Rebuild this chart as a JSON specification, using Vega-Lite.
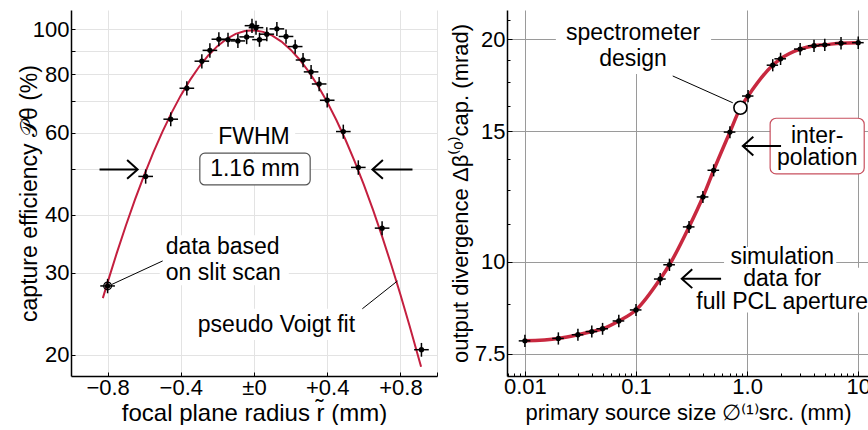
{
  "$schema": "https://vega.github.io/schema/vega-lite/v6.json",
  "background": "white",
  "padding": {"left": 18, "top": 8, "right": 0, "bottom": 0},
  "spacing": 11,
  "config": {
    "font": "Liberation Sans",
    "view": {"stroke": null},
    "axis": {
      "ticks": true, "tickColor": "black", "tickWidth": 1, "tickSize": -4,
      "domainColor": "black", "domainWidth": 1.5,
      "labelFont": "Liberation Sans", "titleFont": "Liberation Sans",
      "labelFontSize": 22, "titleFontSize": 23, "titleFontWeight": "normal",
      "labelColor": "black", "titleColor": "black", "gridWidth": 1,
      "labelOverlap": false, "labelFlush": false, "labelPadding": 5
    },
    "text": {"font": "Liberation Sans", "fontSize": 23, "color": "black"}
  },
  "datasets": {
    "leftPts": [
      {"x": -0.8, "y": 28.1, "xe": 0.04, "ye": 1.0},
      {"x": -0.592, "y": 48.3, "xe": 0.04, "ye": 1.7},
      {"x": -0.455, "y": 64.1, "xe": 0.04, "ye": 2.2},
      {"x": -0.367, "y": 74.7, "xe": 0.04, "ye": 2.6},
      {"x": -0.285, "y": 85.4, "xe": 0.04, "ye": 3.0},
      {"x": -0.241, "y": 90.1, "xe": 0.04, "ye": 3.2},
      {"x": -0.192, "y": 95.2, "xe": 0.04, "ye": 3.3},
      {"x": -0.142, "y": 95.0, "xe": 0.04, "ye": 3.3},
      {"x": -0.088, "y": 94.4, "xe": 0.04, "ye": 3.3},
      {"x": -0.04, "y": 96.3, "xe": 0.04, "ye": 3.4},
      {"x": -0.011, "y": 101.8, "xe": 0.04, "ye": 3.6},
      {"x": 0.011, "y": 100.8, "xe": 0.04, "ye": 3.5},
      {"x": 0.03, "y": 95.0, "xe": 0.04, "ye": 3.3},
      {"x": 0.07, "y": 97.6, "xe": 0.04, "ye": 3.4},
      {"x": 0.125, "y": 100.2, "xe": 0.04, "ye": 3.5},
      {"x": 0.175, "y": 96.5, "xe": 0.04, "ye": 3.4},
      {"x": 0.225, "y": 91.8, "xe": 0.04, "ye": 3.2},
      {"x": 0.268, "y": 85.9, "xe": 0.04, "ye": 3.0},
      {"x": 0.312, "y": 81.0, "xe": 0.04, "ye": 2.8},
      {"x": 0.356, "y": 76.3, "xe": 0.04, "ye": 2.7},
      {"x": 0.4, "y": 70.4, "xe": 0.04, "ye": 2.5},
      {"x": 0.488, "y": 60.3, "xe": 0.04, "ye": 2.1},
      {"x": 0.57, "y": 50.5, "xe": 0.04, "ye": 1.8},
      {"x": 0.7, "y": 37.4, "xe": 0.04, "ye": 1.3},
      {"x": 0.915, "y": 20.5, "xe": 0.04, "ye": 0.7}
    ],
    "leftFit": [
      {"x": -0.826, "y": 26.46}, {"x": -0.8, "y": 28.6}, {"x": -0.75, "y": 33.05},
      {"x": -0.7, "y": 37.89}, {"x": -0.65, "y": 43.1}, {"x": -0.6, "y": 48.62},
      {"x": -0.55, "y": 54.38}, {"x": -0.5, "y": 60.28}, {"x": -0.45, "y": 66.23},
      {"x": -0.4, "y": 72.11}, {"x": -0.35, "y": 77.76}, {"x": -0.3, "y": 83.06},
      {"x": -0.25, "y": 87.86}, {"x": -0.2, "y": 92.0}, {"x": -0.15, "y": 95.32},
      {"x": -0.1, "y": 97.75}, {"x": -0.05, "y": 99.15}, {"x": 0.0, "y": 99.48},
      {"x": 0.05, "y": 98.72}, {"x": 0.1, "y": 96.9}, {"x": 0.15, "y": 94.1},
      {"x": 0.2, "y": 90.42}, {"x": 0.25, "y": 86.01}, {"x": 0.3, "y": 81.0},
      {"x": 0.35, "y": 75.53}, {"x": 0.4, "y": 69.77}, {"x": 0.45, "y": 63.84},
      {"x": 0.5, "y": 57.9}, {"x": 0.55, "y": 52.04}, {"x": 0.6, "y": 46.37},
      {"x": 0.65, "y": 40.98}, {"x": 0.7, "y": 35.9}, {"x": 0.75, "y": 31.21},
      {"x": 0.8, "y": 26.94}, {"x": 0.85, "y": 23.08}, {"x": 0.913, "y": 18.85}
    ],
    "leftMark": [{"x": -0.8, "y": 28.1}],
    "leftBg": [
      {"x": -0.225, "x2": 0.225, "y": 54.5, "y2": 63.8},
      {"x": -0.515, "x2": 0.19, "y": 28.2, "y2": 36.1},
      {"x": -0.35, "x2": 0.6, "y": 21.5, "y2": 25.1}
    ],
    "leftBox": [{"x": -0.296, "x2": 0.307, "y": 46.3, "y2": 54.2}],
    "leftLines": [
      {"x": -0.499, "x2": -0.778, "y": 31.8, "y2": 28.3},
      {"x": 0.592, "x2": 0.784, "y": 25.1, "y2": 28.8}
    ],
    "leftShafts": [
      {"x": -0.844, "x2": -0.64, "y": 50, "y2": 50},
      {"x": 0.866, "x2": 0.652, "y": 50, "y2": 50}
    ],
    "leftHeads": [
      {"x": -0.636, "y": 50, "d": "right"},
      {"x": 0.647, "y": 50, "d": "left"}
    ],
    "leftTxtC": [
      {"x": 0.0, "y": 58.6, "t": "FWHM"},
      {"x": 0.005, "y": 50, "t": "1.16 mm"}
    ],
    "leftTxtL": [
      {"x": -0.482, "y": 34.05, "t": "data based"},
      {"x": -0.482, "y": 30.0, "t": "on slit scan"},
      {"x": -0.307, "y": 23.2, "t": "pseudo Voigt fit"}
    ],
    "rightPts": [
      {"x": 0.01, "y": 7.81, "xe": 0.0012, "ye": 0.15},
      {"x": 0.02, "y": 7.87, "xe": 0.0024, "ye": 0.15},
      {"x": 0.03, "y": 7.96, "xe": 0.0036, "ye": 0.15},
      {"x": 0.04, "y": 8.04, "xe": 0.0048, "ye": 0.15},
      {"x": 0.05, "y": 8.11, "xe": 0.006, "ye": 0.15},
      {"x": 0.07, "y": 8.31, "xe": 0.0084, "ye": 0.16},
      {"x": 0.1, "y": 8.6, "xe": 0.012, "ye": 0.16},
      {"x": 0.165, "y": 9.47, "xe": 0.02, "ye": 0.18},
      {"x": 0.2, "y": 9.9, "xe": 0.024, "ye": 0.19},
      {"x": 0.3, "y": 11.14, "xe": 0.036, "ye": 0.21},
      {"x": 0.4, "y": 12.23, "xe": 0.048, "ye": 0.23},
      {"x": 0.5, "y": 13.29, "xe": 0.06, "ye": 0.25},
      {"x": 0.7, "y": 14.97, "xe": 0.084, "ye": 0.28},
      {"x": 1.02, "y": 16.75, "xe": 0.12, "ye": 0.32},
      {"x": 1.7, "y": 18.44, "xe": 0.2, "ye": 0.35},
      {"x": 2.0, "y": 18.81, "xe": 0.24, "ye": 0.36},
      {"x": 3.0, "y": 19.39, "xe": 0.36, "ye": 0.37},
      {"x": 4.0, "y": 19.59, "xe": 0.48, "ye": 0.37},
      {"x": 5.0, "y": 19.65, "xe": 0.6, "ye": 0.37},
      {"x": 7.0, "y": 19.75, "xe": 0.84, "ye": 0.38},
      {"x": 10, "y": 19.78, "xe": 1.2, "ye": 0.38}
    ],
    "rightFit": [
      {"x": 0.01, "y": 7.81}, {"x": 0.02, "y": 7.87}, {"x": 0.03, "y": 7.96},
      {"x": 0.04, "y": 8.04}, {"x": 0.05, "y": 8.11}, {"x": 0.07, "y": 8.31},
      {"x": 0.1, "y": 8.6}, {"x": 0.165, "y": 9.47}, {"x": 0.2, "y": 9.9},
      {"x": 0.3, "y": 11.14}, {"x": 0.4, "y": 12.23}, {"x": 0.5, "y": 13.29},
      {"x": 0.7, "y": 14.97}, {"x": 0.87, "y": 16.15}, {"x": 1.02, "y": 16.75},
      {"x": 1.7, "y": 18.44}, {"x": 2.0, "y": 18.81}, {"x": 3.0, "y": 19.39},
      {"x": 4.0, "y": 19.59}, {"x": 5.0, "y": 19.65}, {"x": 7.0, "y": 19.75},
      {"x": 10, "y": 19.78}
    ],
    "rightDesign": [{"x": 0.87, "y": 16.15}],
    "rightBg": [
      {"x": 0.019, "x2": 0.474, "y": 17.94, "y2": 21.9},
      {"x": 0.62, "x2": 6.34, "y": 9.81, "y2": 10.46},
      {"x": 0.385, "x2": 11.1, "y": 8.53, "y2": 9.81}
    ],
    "rightBox": [{"x": 1.611, "x2": 11.32, "y": 13.14, "y2": 15.63}],
    "rightLines": [
      {"x": 0.214, "x2": 0.743, "y": 17.83, "y2": 16.4}
    ],
    "rightShafts": [
      {"x": 2.02, "x2": 0.93, "y": 14.33, "y2": 14.33},
      {"x": 0.583, "x2": 0.262, "y": 9.48, "y2": 9.48}
    ],
    "rightHeads": [
      {"x": 0.915, "y": 14.33, "d": "left"},
      {"x": 0.258, "y": 9.48, "d": "left"}
    ],
    "rightTxtC": [
      {"x": 0.094, "y": 20.36, "t": "spectrometer"},
      {"x": 0.094, "y": 18.78, "t": "design"},
      {"x": 4.27, "y": 14.78, "t": "inter-"},
      {"x": 4.27, "y": 13.82, "t": "polation"},
      {"x": 2.07, "y": 10.15, "t": "simulation"},
      {"x": 2.07, "y": 9.48, "t": "data for"},
      {"x": 2.07, "y": 8.82, "t": "full PCL aperture"}
    ]
  },
  "hconcat": [
    {
      "width": 366,
      "height": 366,
      "encoding": {
        "x": {
          "field": "x", "type": "quantitative",
          "scale": {"domain": [-1, 1], "nice": false, "zero": false},
          "axis": {
            "title": "focal plane radius r̃ (mm)",
            "titleFontSize": 24,
            "values": [-0.8, -0.4, 0, 0.4, 0.8, 1.0],
            "labelExpr": "datum.value > 0.9 ? '' : datum.value == 0 ? '±0' : datum.value > 0 ? '+' + format(datum.value, '.1f') : '−' + format(-datum.value, '.1f')",
            "grid": true, "gridColor": "#e3e3e3", "titlePadding": 3
          }
        },
        "y": {
          "field": "y", "type": "quantitative",
          "scale": {"type": "log", "domain": [18, 110], "nice": false},
          "axis": {
            "title": "capture efficiency 𝒫θ (%)",
            "values": [20, 30, 40, 50, 60, 70, 80, 90, 100],
            "labelExpr": "datum.value == 50 || datum.value == 70 || datum.value == 90 ? '' : format(datum.value, 'd')",
            "grid": true, "gridColor": "#e3e3e3", "labelPadding": 6, "titlePadding": -9
          }
        }
      },
      "layer": [
        {"data": {"name": "leftBg"}, "mark": {"type": "rect", "fill": "white"}, "encoding": {"x2": {"field": "x2"}, "y2": {"field": "y2"}}},
        {"data": {"name": "leftBox"}, "mark": {"type": "rect", "fill": "white", "stroke": "#555555", "strokeWidth": 1.2, "cornerRadius": 5}, "encoding": {"x2": {"field": "x2"}, "y2": {"field": "y2"}}},
        {"data": {"name": "leftFit"}, "mark": {"type": "line", "color": "#c41f3f", "strokeWidth": 2}, "encoding": {}},
        {"data": {"name": "leftPts"}, "mark": {"type": "errorbar", "ticks": false, "thickness": 1.5, "color": "black"}, "encoding": {"xError": {"field": "xe"}}},
        {"data": {"name": "leftPts"}, "mark": {"type": "errorbar", "ticks": false, "thickness": 1.5, "color": "black"}, "encoding": {"yError": {"field": "ye"}}},
        {"data": {"name": "leftPts"}, "mark": {"type": "point", "filled": true, "color": "black", "size": 28, "opacity": 1}},
        {"data": {"name": "leftMark"}, "mark": {"type": "point", "filled": false, "color": "black", "size": 60, "strokeWidth": 1.2, "opacity": 1}},
        {"data": {"name": "leftLines"}, "mark": {"type": "rule", "color": "black", "strokeWidth": 1}, "encoding": {"x2": {"field": "x2"}, "y2": {"field": "y2"}}},
        {"data": {"name": "leftShafts"}, "mark": {"type": "rule", "color": "black", "strokeWidth": 2}, "encoding": {"x2": {"field": "x2"}, "y2": {"field": "y2"}}},
        {"data": {"name": "leftHeads"}, "mark": {"type": "point", "filled": false, "color": "black", "strokeWidth": 2, "size": 440, "opacity": 1}, "encoding": {"shape": {"field": "d", "type": "nominal", "scale": {"domain": ["right", "left"], "range": ["M-1,-0.9L0,0L-1,0.9", "M1,-0.9L0,0L1,0.9"]}, "legend": null}}},
        {"data": {"name": "leftTxtC"}, "mark": {"type": "text", "align": "center", "baseline": "middle", "fontSize": 23}, "encoding": {"text": {"field": "t"}}},
        {"data": {"name": "leftTxtL"}, "mark": {"type": "text", "align": "left", "baseline": "middle", "fontSize": 23}, "encoding": {"text": {"field": "t"}}}
      ]
    },
    {
      "width": 362,
      "height": 366,
      "encoding": {
        "x": {
          "field": "x", "type": "quantitative",
          "scale": {"type": "log", "domain": [0.0069, 12.5], "nice": false},
          "axis": {
            "title": "primary source size ∅⁽¹⁾src. (mm)",
            "titleFontSize": 22,
            "values": [0.007, 0.008, 0.009, 0.01, 0.02, 0.03, 0.04, 0.05, 0.06, 0.07, 0.08, 0.09, 0.1, 0.2, 0.3, 0.4, 0.5, 0.6, 0.7, 0.8, 0.9, 1, 2, 3, 4, 5, 6, 7, 8, 9, 10],
            "labelExpr": "datum.value == 0.01 ? '0.01' : datum.value == 0.1 ? '0.1' : datum.value == 1 ? '1.0' : datum.value == 10 ? '10' : ''",
            "grid": true, "gridColor": "#9a9a9a",
            "gridOpacity": {"condition": {"test": "datum.value == 0.01 || datum.value == 0.1 || datum.value == 1 || datum.value == 10", "value": 1}, "value": 0},
            "tickSize": {"condition": {"test": "datum.value == 0.01 || datum.value == 0.1 || datum.value == 1 || datum.value == 10", "value": -5}, "value": -3},
            "titlePadding": 3
          }
        },
        "y": {
          "field": "y", "type": "quantitative",
          "scale": {"type": "log", "domain": [7.0, 21.9], "nice": false},
          "axis": {
            "title": "output divergence Δβ⁽ᵒ⁾cap. (mrad)",
            "titleFontSize": 22,
            "values": [7.5, 8.75, 10, 11.25, 12.5, 13.75, 15, 16.25, 17.5, 18.75, 20, 21.25],
            "labelExpr": "datum.value == 7.5 ? '7.5' : datum.value == 10 || datum.value == 15 || datum.value == 20 ? format(datum.value, 'd') : ''",
            "grid": true, "gridColor": "#9a9a9a",
            "gridOpacity": {"condition": {"test": "datum.value == 7.5 || datum.value == 10 || datum.value == 15 || datum.value == 20", "value": 1}, "value": 0},
            "tickSize": {"condition": {"test": "datum.value == 7.5 || datum.value == 10 || datum.value == 15 || datum.value == 20", "value": -5}, "value": -3},
            "labelPadding": 7, "titlePadding": 2
          }
        }
      },
      "layer": [
        {"data": {"name": "rightBg"}, "mark": {"type": "rect", "fill": "white"}, "encoding": {"x2": {"field": "x2"}, "y2": {"field": "y2"}}},
        {"data": {"name": "rightBox"}, "mark": {"type": "rect", "fill": "white", "stroke": "#c8505f", "strokeWidth": 1.2, "cornerRadius": 6}, "encoding": {"x2": {"field": "x2"}, "y2": {"field": "y2"}}},
        {"data": {"name": "rightFit"}, "mark": {"type": "line", "color": "#c8283f", "strokeWidth": 3.5, "interpolate": "monotone"}, "encoding": {}},
        {"data": {"name": "rightPts"}, "mark": {"type": "errorbar", "ticks": false, "thickness": 1.5, "color": "black"}, "encoding": {"xError": {"field": "xe"}}},
        {"data": {"name": "rightPts"}, "mark": {"type": "errorbar", "ticks": false, "thickness": 1.5, "color": "black"}, "encoding": {"yError": {"field": "ye"}}},
        {"data": {"name": "rightPts"}, "mark": {"type": "point", "filled": true, "color": "black", "size": 28, "opacity": 1}},
        {"data": {"name": "rightLines"}, "mark": {"type": "rule", "color": "black", "strokeWidth": 1}, "encoding": {"x2": {"field": "x2"}, "y2": {"field": "y2"}}},
        {"data": {"name": "rightDesign"}, "mark": {"type": "point", "shape": "circle", "filled": true, "fill": "white", "stroke": "black", "strokeWidth": 1.6, "size": 170, "opacity": 1}},
        {"data": {"name": "rightShafts"}, "mark": {"type": "rule", "color": "black", "strokeWidth": 2}, "encoding": {"x2": {"field": "x2"}, "y2": {"field": "y2"}}},
        {"data": {"name": "rightHeads"}, "mark": {"type": "point", "filled": false, "color": "black", "strokeWidth": 2, "size": 440, "opacity": 1}, "encoding": {"shape": {"field": "d", "type": "nominal", "scale": {"domain": ["right", "left"], "range": ["M-1,-0.9L0,0L-1,0.9", "M1,-0.9L0,0L1,0.9"]}, "legend": null}}},
        {"data": {"name": "rightTxtC"}, "mark": {"type": "text", "align": "center", "baseline": "middle", "fontSize": 23}, "encoding": {"text": {"field": "t"}}}
      ]
    }
  ]
}
